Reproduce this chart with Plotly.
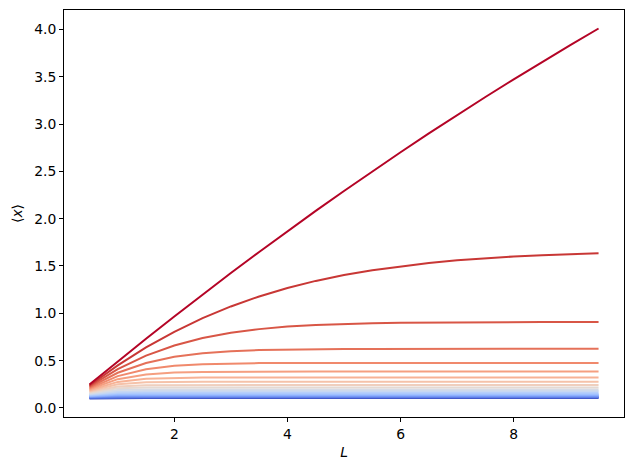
import plotly.graph_objects as go

# ---- data ----
L_values = [0.5, 1.0, 1.5, 2.0, 2.5, 3.0, 3.5, 4.0, 4.5, 5.0, 5.5, 6.0, 6.5, 7.0, 7.5, 8.0, 8.5, 9.0, 9.5]

curve_00 = [0.2479, 0.4917, 0.7313, 0.9667, 1.1980, 1.4251, 1.6481, 1.8670, 2.0818, 2.2925, 2.4992, 2.7018, 2.9004, 3.0950, 3.2856, 3.4723, 3.6551, 3.8339, 4.0090]
curve_01 = [0.2375, 0.4503, 0.6390, 0.8046, 0.9486, 1.0726, 1.1782, 1.2676, 1.3424, 1.4047, 1.4560, 1.4981, 1.5324, 1.5601, 1.5824, 1.6003, 1.6145, 1.6258, 1.6348]
curve_02 = [0.2272, 0.4101, 0.5525, 0.6599, 0.7384, 0.7942, 0.8330, 0.8594, 0.8770, 0.8886, 0.8961, 0.9009, 0.9040, 0.9059, 0.9071, 0.9079, 0.9084, 0.9086, 0.9088]
curve_03 = [0.2170, 0.3720, 0.4753, 0.5400, 0.5784, 0.6001, 0.6120, 0.6183, 0.6216, 0.6233, 0.6242, 0.6246, 0.6248, 0.6249, 0.6250, 0.6250, 0.6250, 0.6250, 0.6250]
curve_04 = [0.2070, 0.3366, 0.4090, 0.4457, 0.4630, 0.4707, 0.4739, 0.4753, 0.4758, 0.4761, 0.4761, 0.4762, 0.4762, 0.4762, 0.4762, 0.4762, 0.4762, 0.4762, 0.4762]
curve_05 = [0.1973, 0.3044, 0.3536, 0.3735, 0.3809, 0.3834, 0.3842, 0.3845, 0.3846, 0.3846, 0.3846, 0.3846, 0.3846, 0.3846, 0.3846, 0.3846, 0.3846, 0.3846, 0.3846]
curve_06 = [0.1879, 0.2754, 0.3081, 0.3185, 0.3215, 0.3223, 0.3225, 0.3226, 0.3226, 0.3226, 0.3226, 0.3226, 0.3226, 0.3226, 0.3226, 0.3226, 0.3226, 0.3226, 0.3226]
curve_07 = [0.1788, 0.2497, 0.2710, 0.2763, 0.2775, 0.2777, 0.2778, 0.2778, 0.2778, 0.2778, 0.2778, 0.2778, 0.2778, 0.2778, 0.2778, 0.2778, 0.2778, 0.2778, 0.2778]
curve_08 = [0.1700, 0.2271, 0.2407, 0.2434, 0.2438, 0.2439, 0.2439, 0.2439, 0.2439, 0.2439, 0.2439, 0.2439, 0.2439, 0.2439, 0.2439, 0.2439, 0.2439, 0.2439, 0.2439]
curve_09 = [0.1617, 0.2072, 0.2159, 0.2172, 0.2174, 0.2174, 0.2174, 0.2174, 0.2174, 0.2174, 0.2174, 0.2174, 0.2174, 0.2174, 0.2174, 0.2174, 0.2174, 0.2174, 0.2174]
curve_10 = [0.1537, 0.1899, 0.1954, 0.1960, 0.1961, 0.1961, 0.1961, 0.1961, 0.1961, 0.1961, 0.1961, 0.1961, 0.1961, 0.1961, 0.1961, 0.1961, 0.1961, 0.1961, 0.1961]
curve_11 = [0.1462, 0.1749, 0.1782, 0.1785, 0.1786, 0.1786, 0.1786, 0.1786, 0.1786, 0.1786, 0.1786, 0.1786, 0.1786, 0.1786, 0.1786, 0.1786, 0.1786, 0.1786, 0.1786]
curve_12 = [0.1391, 0.1617, 0.1638, 0.1639, 0.1639, 0.1639, 0.1639, 0.1639, 0.1639, 0.1639, 0.1639, 0.1639, 0.1639, 0.1639, 0.1639, 0.1639, 0.1639, 0.1639, 0.1639]
curve_13 = [0.1324, 0.1502, 0.1514, 0.1515, 0.1515, 0.1515, 0.1515, 0.1515, 0.1515, 0.1515, 0.1515, 0.1515, 0.1515, 0.1515, 0.1515, 0.1515, 0.1515, 0.1515, 0.1515]
curve_14 = [0.1261, 0.1400, 0.1408, 0.1408, 0.1408, 0.1408, 0.1408, 0.1408, 0.1408, 0.1408, 0.1408, 0.1408, 0.1408, 0.1408, 0.1408, 0.1408, 0.1408, 0.1408, 0.1408]
curve_15 = [0.1201, 0.1311, 0.1316, 0.1316, 0.1316, 0.1316, 0.1316, 0.1316, 0.1316, 0.1316, 0.1316, 0.1316, 0.1316, 0.1316, 0.1316, 0.1316, 0.1316, 0.1316, 0.1316]
curve_16 = [0.1146, 0.1232, 0.1235, 0.1235, 0.1235, 0.1235, 0.1235, 0.1235, 0.1235, 0.1235, 0.1235, 0.1235, 0.1235, 0.1235, 0.1235, 0.1235, 0.1235, 0.1235, 0.1235]
curve_17 = [0.1094, 0.1161, 0.1163, 0.1163, 0.1163, 0.1163, 0.1163, 0.1163, 0.1163, 0.1163, 0.1163, 0.1163, 0.1163, 0.1163, 0.1163, 0.1163, 0.1163, 0.1163, 0.1163]
curve_18 = [0.1046, 0.1098, 0.1099, 0.1099, 0.1099, 0.1099, 0.1099, 0.1099, 0.1099, 0.1099, 0.1099, 0.1099, 0.1099, 0.1099, 0.1099, 0.1099, 0.1099, 0.1099, 0.1099]
curve_19 = [0.1000, 0.1041, 0.1042, 0.1042, 0.1042, 0.1042, 0.1042, 0.1042, 0.1042, 0.1042, 0.1042, 0.1042, 0.1042, 0.1042, 0.1042, 0.1042, 0.1042, 0.1042, 0.1042]

y_ticks = [0.0, 0.5, 1.0, 1.5, 2.0, 2.5, 3.0, 3.5, 4.0]
x_ticks = [2, 4, 6, 8]

curves = [curve_00, curve_01, curve_02, curve_03, curve_04, curve_05, curve_06,
          curve_07, curve_08, curve_09, curve_10, curve_11, curve_12, curve_13,
          curve_14, curve_15, curve_16, curve_17, curve_18, curve_19]

# ---- coolwarm colormap ----
_cw = [(59, 76, 192), (68, 90, 204), (77, 104, 215), (87, 117, 225), (98, 130, 234),
       (108, 142, 241), (119, 154, 247), (130, 165, 251), (141, 176, 254), (152, 185, 255),
       (163, 194, 255), (174, 201, 253), (184, 208, 249), (194, 213, 244), (204, 217, 238),
       (213, 219, 230), (221, 221, 221), (229, 216, 209), (236, 211, 197), (241, 204, 184),
       (245, 196, 172), (247, 187, 160), (247, 177, 148), (247, 166, 135), (244, 154, 123),
       (241, 141, 111), (236, 127, 99), (229, 112, 88), (222, 96, 77), (213, 80, 66),
       (203, 62, 56), (192, 40, 47), (180, 4, 38)]


def coolwarm(t):
    t = min(max(t, 0.0), 1.0)
    pos = t * (len(_cw) - 1)
    i = int(pos)
    if i >= len(_cw) - 1:
        r, g, b = _cw[-1]
    else:
        f = pos - i
        r = _cw[i][0] + f * (_cw[i + 1][0] - _cw[i][0])
        g = _cw[i][1] + f * (_cw[i + 1][1] - _cw[i][1])
        b = _cw[i][2] + f * (_cw[i + 1][2] - _cw[i][2])
    return "rgb(%d,%d,%d)" % (round(r), round(g), round(b))


fig = go.Figure()
n = len(curves)
# draw blue (bottom) first so red ends up on top
for idx in range(n - 1, -1, -1):
    t = 1.0 - idx / (n - 1)
    fig.add_trace(go.Scatter(x=L_values, y=curves[idx], mode="lines",
                             line=dict(color=coolwarm(t), width=2),
                             showlegend=False, hoverinfo="skip"))

all_y = [v for c in curves for v in c]
ymin, ymax = min(all_y), max(all_y)
yr = ymax - ymin
xmin, xmax = min(L_values), max(L_values)
xr = xmax - xmin

font = dict(family="DejaVu Sans", size=13.9, color="black")
axis_common = dict(showline=True, linecolor="black", linewidth=1, mirror=True,
                   ticks="outside", ticklen=4, tickwidth=1, tickcolor="black",
                   showgrid=False, zeroline=False, tickfont=font)

fig.update_layout(
    width=630, height=470,
    margin=dict(l=64, r=6, t=10, b=53, autoexpand=False),
    paper_bgcolor="white", plot_bgcolor="white",
    font=font,
    xaxis=dict(range=[xmin - 0.05 * xr, xmax + 0.05 * xr], tickvals=x_ticks,
               ticktext=[str(v) for v in x_ticks],
               title=dict(text="<i>L</i>", font=font, standoff=6), **axis_common),
    yaxis=dict(range=[ymin - 0.05 * yr, ymax + 0.05 * yr], tickvals=y_ticks,
               ticktext=["%.1f" % v for v in y_ticks],
               title=dict(text="⟨<i>x</i>⟩", font=font, standoff=8), **axis_common),
)

fig.write_html("out.html", config={"displayModeBar": False},
               post_script="document.body.style.margin='0';")
